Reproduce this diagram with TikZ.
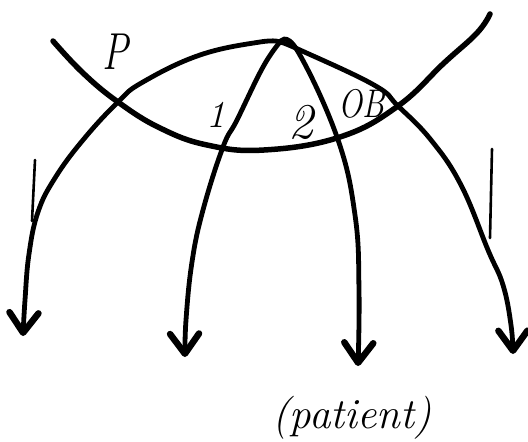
\documentclass[tikz,border=0pt]{standalone}
\usepackage{tikz}
\usetikzlibrary{arrows.meta}

\begin{document}
\begin{tikzpicture}[
    x=1pt, y=-1pt,
    arc/.style={line width=5.5pt, line cap=round, black},
    ray/.style={line width=4.8pt, line cap=round, black, -{Straight Barb[length=20pt, width=29pt, round, line width=6.5pt]}},
    tick/.style={line width=2.6pt, line cap=round, black},
    txt/.style={inner sep=0pt, font=\itshape\fontsize{#1}{#1}\selectfont},
]
\useasboundingbox (0, 0) rectangle (528, 442);
\coordinate (apex) at (280, 42);
\coordinate (crossL) at (118, 102);
\coordinate (crossR) at (398, 106);
\draw[arc] plot[smooth, tension=0.7] coordinates {(53, 41) (83, 73) (crossL) (160, 128) (207, 145) (264, 150) (340, 137) (crossR) (444, 63) (477, 33) (490, 14)};
\draw[ray] plot[smooth, tension=0.7] coordinates {(apex) (260, 42) (200, 55) (143, 82) (crossL) (83, 140) (55, 178) (38, 212) (29, 254) (25, 300) (23, 336)};
\draw[ray] plot[smooth, tension=0.7] coordinates {(apex) (263, 67) (237, 120) (223, 147) (203, 210) (192, 262) (186, 320) (185, 357)};
\draw[ray] plot[smooth, tension=0.7] coordinates {(apex) (297, 50) (337, 137) (355, 215) (359, 290) (358, 366)};
\draw[ray] plot[smooth, tension=0.7] coordinates {(apex) (300, 50) (374, 85) (crossR) (431, 140) (461, 185) (488, 250) (503, 285) (511, 325) (513, 354)};
\coordinate (tickLa) at (35, 160);
\coordinate (tickLb) at (32, 221);
\coordinate (tickRa) at (492, 149);
\coordinate (tickRb) at (490, 238);
\draw[tick] (tickLa) -- (tickLb);
\draw[tick] (tickRa) -- (tickRb);
\node[txt=52, xscale=0.75] (labelP) at (115, 52) {P};
\node[txt=38] (labelOne) at (216, 115) {1};
\node[txt=50] (labelTwo) at (301, 122) {2};
\node[txt=40, xscale=0.8] (labelOB) at (362, 104) {OB};
\node[txt=43] (labelPatient) at (352, 418) {(patient)};
\end{tikzpicture}
\end{document}
